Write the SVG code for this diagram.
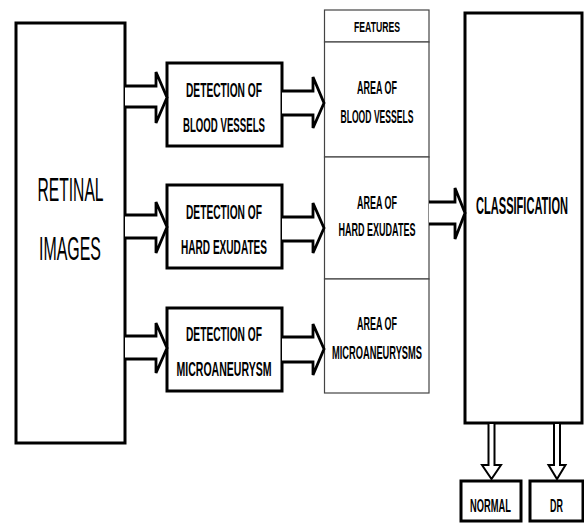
<svg xmlns="http://www.w3.org/2000/svg" width="584" height="523" viewBox="0 0 584 523">
<style>
.box{fill:#fff;stroke:#000;stroke-width:3}
.cell{fill:#fff;stroke:#444;stroke-width:1.2}
.arr{fill:#fff;stroke:#000;stroke-width:2.8;stroke-linejoin:miter}
.darr{fill:#fff;stroke:#000;stroke-width:2;stroke-linejoin:miter}
text{font-family:"Liberation Sans",Arial,sans-serif;fill:#000;text-anchor:middle}
.b{font-weight:bold}
</style>
<rect width="584" height="523" fill="#fff"/>
<g id="retinal">
<rect class="box" x="16" y="23" width="109" height="420"/>
<text x="70.5" y="201" font-size="34" textLength="66" lengthAdjust="spacingAndGlyphs">RETINAL</text>
<text x="70" y="260" font-size="34" textLength="62" lengthAdjust="spacingAndGlyphs">IMAGES</text>
</g>
<g id="det-bv">
<rect class="box" x="167" y="63" width="115" height="83"/>
<text class="b" x="224" y="97" font-size="21" textLength="76" lengthAdjust="spacingAndGlyphs">DETECTION OF</text>
<text class="b" x="224" y="132" font-size="21" textLength="82" lengthAdjust="spacingAndGlyphs">BLOOD VESSELS</text>
</g>
<g id="det-he">
<rect class="box" x="167" y="185" width="115" height="83"/>
<text class="b" x="224" y="219" font-size="21" textLength="76" lengthAdjust="spacingAndGlyphs">DETECTION OF</text>
<text class="b" x="224" y="254" font-size="21" textLength="86" lengthAdjust="spacingAndGlyphs">HARD EXUDATES</text>
</g>
<g id="det-ma">
<rect class="box" x="167" y="308" width="115" height="83"/>
<text class="b" x="224" y="341" font-size="21" textLength="76" lengthAdjust="spacingAndGlyphs">DETECTION OF</text>
<text class="b" x="224" y="376" font-size="21" textLength="95" lengthAdjust="spacingAndGlyphs">MICROANEURYSM</text>
</g>
<g id="features">
<rect class="cell" x="324.5" y="10" width="104.5" height="32"/>
<rect class="cell" x="324.5" y="42" width="104.5" height="115"/>
<rect class="cell" x="324.5" y="157" width="104.5" height="122"/>
<rect class="cell" x="324.5" y="279" width="104.5" height="114"/>
<text class="b" x="377" y="32" font-size="15" textLength="46" lengthAdjust="spacingAndGlyphs">FEATURES</text>
<text class="b" x="377" y="94" font-size="18" textLength="40" lengthAdjust="spacingAndGlyphs">AREA OF</text>
<text class="b" x="377" y="123" font-size="18" textLength="73" lengthAdjust="spacingAndGlyphs">BLOOD VESSELS</text>
<text class="b" x="377" y="209" font-size="18" textLength="40" lengthAdjust="spacingAndGlyphs">AREA OF</text>
<text class="b" x="377" y="236" font-size="18" textLength="77" lengthAdjust="spacingAndGlyphs">HARD EXUDATES</text>
<text class="b" x="377" y="330" font-size="18" textLength="40" lengthAdjust="spacingAndGlyphs">AREA OF</text>
<text class="b" x="377" y="359" font-size="18" textLength="90" lengthAdjust="spacingAndGlyphs">MICROANEURYSMS</text>
</g>
<g id="classification">
<rect class="box" x="465" y="13" width="117" height="410"/>
<text class="b" transform="translate(522,214) scale(0.481,1)" x="0" y="0" font-size="23">CLASSIFICATION</text>
</g>
<g id="normal">
<rect class="box" x="461" y="481" width="60" height="40"/>
<text class="b" transform="translate(490.5,512) scale(0.49,1)" x="0" y="0" font-size="19">NORMAL</text>
</g>
<g id="dr">
<rect class="box" x="530" y="481" width="53" height="40"/>
<text class="b" transform="translate(556.5,512) scale(0.47,1)" x="0" y="0" font-size="19">DR</text>
</g>
<g id="connectors">
<path class="arr" d="M125,86 H156 V72 L167,97.5 L156,123 V107 H125"/>
<path class="arr" d="M125,215 H156 V202 L167,227 L156,253 V238 H125"/>
<path class="arr" d="M125,336 H156 V323 L167,348 L156,373 V359 H125"/>
<path class="arr" d="M282,91 H313 V77 L324,103 L313,128 V115 H282"/>
<path class="arr" d="M282,217 H313 V203 L324,228 L313,253 V241 H282"/>
<path class="arr" d="M282,337 H313 V324 L324,349 L313,375 V362 H282"/>
<path class="arr" d="M429,202 H455 V188 L465,213 L455,239 V224 H429"/>
<path class="darr" d="M488.5,424 V465 H482 L491.5,479 L501,465 H494.5 V424"/>
<path class="darr" d="M554,424 V465 H548.5 L557,479 L565.5,465 H560 V424"/>
</g>
</svg>
